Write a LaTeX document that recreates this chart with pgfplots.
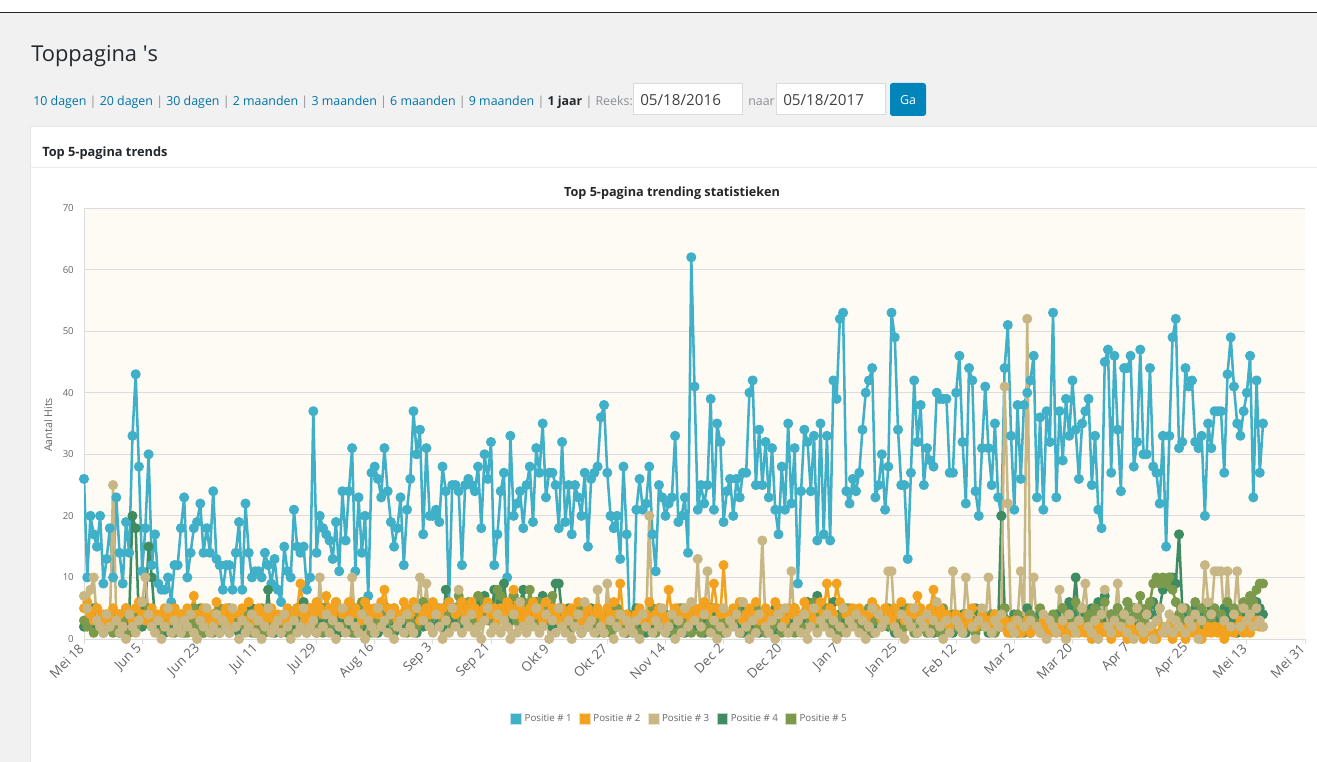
\documentclass[border=0pt]{standalone}
\usepackage{fontspec}
\setmainfont{Open Sans}
\usepackage{pgfplots}
\usepackage{pgfplotstable}
\pgfplotsset{compat=1.18}
\definecolor{cA}{HTML}{40AFC8}
\definecolor{cB}{HTML}{F2A21E}
\definecolor{cC}{HTML}{C8B784}
\definecolor{cD}{HTML}{3F8B62}
\definecolor{cE}{HTML}{7B9A4C}
\definecolor{wpbg}{HTML}{F1F1F1}
\definecolor{wplink}{HTML}{0073AA}
\definecolor{wptext}{HTML}{23282D}
\definecolor{wpgray}{HTML}{8C8F94}
\definecolor{plotbg}{HTML}{FDFBF3}
\definecolor{gridc}{HTML}{DCDCDC}
\definecolor{tickc}{HTML}{666666}
\definecolor{btn}{HTML}{0085BA}

% Positie # 1
\pgfplotstableread[row sep=\\]{y\\
26\\10\\20\\17\\15\\20\\9\\13\\18\\10\\
23\\14\\9\\19\\14\\33\\43\\28\\11\\18\\
30\\12\\17\\9\\8\\8\\10\\6\\12\\12\\
18\\23\\10\\14\\18\\19\\22\\14\\18\\14\\
24\\13\\12\\8\\12\\12\\8\\14\\19\\8\\
22\\14\\10\\11\\11\\10\\14\\12\\9\\13\\
8\\6\\15\\11\\10\\21\\15\\14\\15\\8\\
10\\37\\14\\20\\18\\17\\16\\13\\19\\11\\
24\\16\\24\\31\\11\\23\\14\\20\\7\\27\\
28\\26\\23\\31\\24\\19\\15\\18\\23\\12\\
21\\26\\37\\30\\34\\17\\31\\20\\20\\21\\
19\\28\\24\\6\\25\\25\\24\\12\\25\\26\\
25\\24\\28\\18\\30\\26\\32\\12\\17\\24\\
27\\10\\33\\20\\22\\24\\18\\25\\28\\19\\
31\\27\\35\\23\\27\\27\\25\\18\\32\\19\\
25\\17\\25\\23\\20\\27\\15\\26\\27\\28\\
36\\38\\27\\20\\18\\20\\13\\28\\17\\1.5\\
1\\21\\26\\21\\22\\28\\17\\11\\25\\23\\
20\\22\\23\\33\\19\\20\\23\\14\\62\\41\\
21\\25\\22\\25\\39\\21\\35\\32\\19\\24\\
26\\20\\26\\23\\27\\27\\40\\42\\25\\34\\
25\\32\\23\\31\\21\\17\\28\\21\\35\\22\\
31\\9\\24\\34\\32\\24\\33\\16\\35\\17\\
33\\16\\42\\39\\52\\53\\24\\22\\26\\24\\
27\\34\\40\\42\\44\\23\\25\\30\\21\\28\\
53\\49\\34\\25\\25\\13\\27\\42\\32\\38\\
25\\31\\29\\28\\40\\39\\39\\39\\27\\27\\
40\\46\\32\\22\\44\\42\\24\\20\\31\\41\\
31\\25\\35\\23\\20\\44\\51\\33\\21\\38\\
26\\38\\40\\42\\46\\23\\36\\21\\37\\32\\
53\\23\\37\\29\\39\\33\\42\\34\\26\\35\\
37\\39\\25\\33\\21\\18\\45\\47\\27\\46\\
34\\24\\44\\44\\46\\28\\32\\47\\30\\30\\
44\\28\\27\\22\\33\\15\\33\\49\\52\\31\\
32\\44\\41\\42\\32\\31\\33\\20\\35\\31\\
37\\37\\37\\27\\43\\49\\41\\35\\33\\37\\
40\\46\\23\\42\\27\\35\\
}\sA

% Positie # 2
\pgfplotstableread[row sep=\\]{y\\
5\\6\\4\\3\\5\\2\\4\\3\\4\\5\\
3\\4\\2\\5\\4\\3\\5\\6\\4\\3\\
4\\5\\3\\4\\3\\5\\4\\3\\5\\4\\
4\\3\\5\\4\\7\\4\\3\\5\\4\\3\\
4\\6\\3\\4\\5\\3\\4\\2\\4\\5\\
3\\6\\4\\3\\5\\4\\3\\4\\5\\3\\
4\\3\\4\\5\\3\\4\\5\\9\\4\\3\\
5\\4\\6\\5\\4\\7\\5\\4\\6\\5\\
4\\5\\6\\4\\5\\4\\3\\6\\5\\4\\
5\\4\\6\\8\\5\\4\\5\\3\\4\\6\\
5\\4\\6\\5\\3\\4\\5\\4\\6\\5\\
4\\5\\3\\6\\5\\4\\5\\6\\4\\5\\
6\\5\\4\\3\\5\\6\\4\\5\\3\\5\\
4\\6\\5\\8\\4\\5\\3\\4\\5\\6\\
4\\5\\3\\6\\4\\5\\4\\3\\5\\4\\
3\\5\\4\\6\\3\\4\\5\\3\\4\\5\\
4\\3\\5\\4\\6\\4\\9\\3\\4\\2\\
3\\4\\5\\3\\4\\6\\3\\4\\5\\4\\
3\\8\\4\\5\\3\\4\\5\\4\\3\\5\\
4\\5\\6\\4\\5\\9\\5\\4\\12\\4\\
3\\5\\4\\6\\3\\4\\5\\4\\6\\3\\
4\\5\\3\\4\\6\\5\\4\\3\\5\\4\\
5\\3\\4\\6\\5\\4\\3\\5\\6\\4\\
9\\5\\4\\9\\6\\5\\4\\3\\5\\4\\
5\\4\\3\\4\\6\\5\\4\\3\\5\\4\\
3\\5\\4\\6\\3\\4\\5\\4\\7\\5\\
4\\3\\5\\8\\4\\5\\3\\4\\2\\3\\
4\\3\\2\\4\\3\\5\\2\\3\\4\\2\\
3\\2\\4\\3\\2\\3\\1\\2\\3\\2\\
1\\2\\3\\1\\2\\2\\1\\3\\2\\1\\
2\\1\\2\\1\\0\\2\\1\\2\\1\\2\\
1\\2\\0\\1\\2\\1\\2\\1\\0\\2\\
1\\2\\1\\0\\2\\1\\1\\2\\0\\1\\
2\\1\\0\\1\\2\\1\\2\\0\\1\\2\\
1\\0\\2\\1\\2\\1\\0\\1\\2\\1\\
2\\1\\2\\0\\1\\2\\1\\2\\3\\1\\
2\\1\\2\\3\\2\\2\\
}\sB

% Positie # 3
\pgfplotstableread[row sep=\\]{y\\
7\\5\\8\\10\\3\\2\\1\\4\\2\\25\\
3\\1\\2\\0\\4\\2\\1\\3\\6\\10\\
4\\2\\1\\3\\0\\2\\5\\1\\3\\2\\
1\\3\\2\\4\\1\\0\\3\\2\\5\\1\\
2\\4\\1\\3\\2\\1\\5\\2\\0\\3\\
1\\2\\4\\1\\3\\0\\2\\5\\1\\2\\
3\\1\\4\\2\\0\\3\\1\\2\\5\\1\\
2\\3\\1\\10\\2\\4\\1\\3\\0\\2\\
5\\1\\3\\10\\2\\1\\4\\0\\3\\2\\
1\\5\\2\\3\\1\\4\\0\\2\\3\\1\\
4\\2\\1\\5\\10\\3\\9\\2\\1\\4\\
2\\0\\3\\1\\5\\2\\8\\1\\3\\2\\
4\\1\\2\\0\\3\\5\\1\\2\\4\\1\\
3\\2\\0\\4\\1\\6\\2\\1\\3\\2\\
5\\1\\2\\4\\0\\3\\1\\5\\2\\1\\
3\\0\\2\\4\\1\\6\\2\\3\\1\\8\\
2\\1\\9\\3\\0\\2\\4\\1\\3\\2\\
1\\3\\0\\4\\2\\20\\1\\3\\2\\5\\
1\\2\\4\\0\\3\\1\\5\\2\\6\\3\\
13\\2\\4\\11\\1\\3\\0\\2\\5\\1\\
3\\2\\4\\1\\6\\2\\0\\3\\1\\4\\
16\\2\\1\\3\\0\\4\\2\\5\\1\\11\\
2\\3\\1\\4\\0\\2\\5\\1\\3\\2\\
4\\1\\3\\0\\2\\5\\1\\3\\2\\4\\
1\\3\\0\\2\\5\\1\\4\\2\\3\\11\\
11\\2\\1\\4\\0\\3\\2\\5\\1\\3\\
2\\4\\1\\3\\6\\2\\0\\3\\1\\11\\
3\\2\\1\\10\\4\\2\\0\\3\\5\\2\\
10\\1\\3\\2\\4\\41\\22\\2\\1\\3\\
11\\2\\52\\3\\10\\2\\1\\4\\0\\3\\
2\\1\\8\\3\\0\\4\\2\\1\\3\\5\\
9\\2\\1\\3\\0\\4\\8\\2\\1\\3\\
9\\2\\4\\1\\3\\0\\5\\2\\1\\4\\
2\\0\\3\\5\\1\\2\\4\\1\\3\\2\\
5\\1\\3\\2\\4\\0\\3\\12\\6\\4\\
11\\11\\11\\3\\11\\2\\4\\11\\2\\5\\
3\\4\\2\\5\\3\\2\\
}\sC

% Positie # 4
\pgfplotstableread[row sep=\\]{y\\
2\\3\\4\\5\\2\\3\\1\\2\\4\\3\\
2\\1\\3\\2\\4\\20\\18\\3\\2\\5\\
15\\10\\3\\2\\4\\1\\3\\2\\5\\2\\
3\\1\\2\\4\\3\\2\\5\\1\\3\\2\\
4\\2\\1\\3\\2\\5\\2\\3\\1\\4\\
2\\3\\5\\1\\2\\4\\3\\8\\2\\1\\
3\\2\\4\\1\\3\\2\\5\\2\\6\\3\\
2\\4\\1\\3\\5\\2\\3\\4\\2\\1\\
3\\5\\2\\4\\1\\3\\2\\6\\3\\2\\
4\\1\\3\\2\\5\\3\\1\\4\\2\\3\\
2\\4\\3\\1\\5\\2\\3\\4\\2\\5\\
3\\2\\8\\4\\3\\5\\2\\6\\3\\4\\
5\\3\\6\\4\\7\\5\\3\\8\\4\\6\\
9\\5\\3\\7\\4\\6\\8\\3\\5\\4\\
6\\3\\7\\4\\5\\2\\9\\9\\4\\3\\
5\\2\\4\\3\\1\\4\\2\\5\\3\\2\\
4\\1\\3\\2\\5\\2\\4\\3\\1\\2\\
3\\5\\2\\4\\1\\3\\2\\4\\5\\2\\
3\\1\\4\\2\\3\\5\\1\\2\\4\\3\\
2\\4\\1\\3\\5\\2\\4\\3\\1\\2\\
4\\3\\2\\5\\1\\3\\2\\4\\3\\1\\
2\\4\\3\\1\\5\\2\\3\\4\\2\\3\\
5\\2\\3\\4\\6\\3\\5\\7\\2\\4\\
3\\5\\6\\2\\4\\3\\5\\2\\4\\3\\
2\\4\\3\\5\\1\\3\\2\\4\\3\\2\\
4\\1\\3\\2\\5\\3\\2\\4\\1\\3\\
2\\4\\3\\1\\5\\2\\3\\4\\2\\1\\
3\\2\\4\\1\\3\\2\\5\\3\\4\\2\\
1\\3\\4\\2\\20\\5\\3\\2\\4\\1\\
3\\2\\5\\1\\3\\2\\4\\3\\2\\1\\
3\\4\\2\\5\\3\\6\\4\\10\\3\\2\\
4\\3\\5\\2\\6\\3\\7\\2\\4\\3\\
5\\2\\4\\6\\3\\5\\2\\4\\3\\5\\
4\\6\\3\\5\\8\\9\\10\\10\\9\\17\\
5\\3\\4\\2\\5\\3\\4\\2\\3\\5\\
2\\4\\3\\5\\2\\4\\3\\1\\4\\2\\
3\\5\\4\\6\\5\\4\\
}\sD

% Positie # 5
\pgfplotstableread[row sep=\\]{y\\
3\\2\\4\\1\\5\\3\\2\\4\\3\\1\\
2\\4\\3\\5\\1\\3\\2\\4\\6\\3\\
5\\2\\3\\1\\4\\2\\3\\5\\1\\2\\
4\\2\\1\\3\\5\\2\\4\\1\\3\\2\\
1\\3\\5\\2\\4\\1\\3\\2\\4\\3\\
2\\4\\1\\3\\2\\5\\1\\3\\2\\4\\
3\\1\\2\\4\\1\\3\\5\\2\\4\\1\\
5\\3\\2\\4\\1\\5\\2\\3\\6\\2\\
2\\4\\3\\1\\5\\2\\6\\3\\4\\1\\
3\\5\\2\\4\\3\\1\\5\\2\\3\\4\\
1\\3\\5\\2\\4\\6\\3\\2\\5\\4\\
5\\3\\4\\6\\2\\5\\7\\3\\4\\6\\
3\\5\\7\\4\\6\\3\\5\\4\\8\\7\\
5\\6\\4\\7\\3\\5\\6\\4\\8\\5\\
3\\6\\4\\5\\3\\7\\4\\5\\2\\3\\
4\\2\\3\\5\\1\\3\\4\\2\\3\\1\\
3\\4\\2\\1\\3\\5\\2\\3\\1\\4\\
2\\3\\1\\4\\2\\3\\5\\1\\3\\2\\
4\\2\\3\\1\\5\\2\\3\\4\\1\\3\\
3\\1\\4\\2\\3\\5\\2\\1\\3\\4\\
2\\3\\5\\1\\4\\2\\3\\1\\5\\2\\
3\\1\\4\\2\\3\\5\\1\\3\\2\\4\\
1\\3\\2\\4\\5\\3\\6\\2\\4\\3\\
5\\2\\4\\3\\1\\4\\2\\5\\3\\2\\
3\\4\\2\\5\\1\\3\\4\\2\\3\\5\\
2\\3\\1\\4\\2\\5\\3\\1\\4\\2\\
3\\1\\4\\2\\3\\1\\5\\2\\3\\4\\
2\\3\\1\\4\\2\\3\\1\\2\\4\\3\\
2\\4\\1\\3\\2\\5\\3\\1\\2\\4\\
3\\1\\2\\4\\3\\2\\5\\1\\3\\2\\
4\\2\\3\\5\\2\\4\\3\\6\\2\\5\\
3\\4\\2\\5\\3\\4\\6\\2\\4\\3\\
5\\3\\4\\6\\2\\5\\4\\7\\3\\5\\
6\\9\\10\\9\\10\\9\\10\\8\\6\\4\\
3\\5\\2\\4\\6\\3\\5\\2\\4\\3\\
5\\2\\4\\3\\6\\2\\5\\4\\3\\6\\
5\\7\\6\\8\\9\\9\\
}\sE

\pgfplotsset{
  sq legend/.style={legend image code/.code={\draw[##1, line width=0.7pt] (0pt,-4pt) rectangle (8pt,4pt);}},
  ser/.style={#1, line width=1.9pt, line join=round, mark=*, mark size=2.8pt, mark options={draw=none, fill=#1}, forget plot},
}

\begin{document}
\begin{tikzpicture}
\begin{scope}[x=0.75pt,y=-0.75pt]
\fill[wpbg] (0,0) rectangle (1317,762);
\fill[white] (0,0) rectangle (1317,12);
\draw[black!85, line width=0.9pt] (0,12.5) -- (1317,12.5);
\node[anchor=base west, inner sep=0, text=wptext, font=\fontsize{16.4}{20}\selectfont] at (31,62) {Toppagina \textquotesingle s};
\node[anchor=base west, inner sep=0, font=\fontsize{9.3}{12}\selectfont] at (33,106)
 {\textcolor{wplink}{10 dagen} \textcolor{wpgray}{|} \textcolor{wplink}{20 dagen} \textcolor{wpgray}{|} \textcolor{wplink}{30 dagen} \textcolor{wpgray}{|} \textcolor{wplink}{2 maanden} \textcolor{wpgray}{|} \textcolor{wplink}{3 maanden} \textcolor{wpgray}{|} \textcolor{wplink}{6 maanden} \textcolor{wpgray}{|} \textcolor{wplink}{9 maanden} \textcolor{wpgray}{|} \textcolor{wptext}{\textbf{1 jaar}} \textcolor{wpgray}{| Reeks:}};
\draw[fill=white, draw=black!14, line width=0.75pt] (633,84) rectangle (742,115);
\node[anchor=base west, inner sep=0, text=black!75, font=\fontsize{11.4}{13}\selectfont] at (640,106) {05/18/2016};
\node[anchor=base west, inner sep=0, text=wpgray, font=\fontsize{9.3}{12}\selectfont] at (748,106) {naar};
\draw[fill=white, draw=black!14, line width=0.75pt] (776,84) rectangle (885,115);
\node[anchor=base west, inner sep=0, text=black!75, font=\fontsize{11.4}{13}\selectfont] at (783,106) {05/18/2017};
\fill[btn, rounded corners=2pt] (890,83) rectangle (926,116);
\node[text=white, inner sep=0, font=\fontsize{9.3}{12}\selectfont] at (908,100) {Ga};
\draw[fill=white, draw=black!10, line width=0.75pt] (30,127) rectangle (1340,790);
\node[anchor=base west, inner sep=0, text=wptext, font=\fontsize{9.6}{12}\selectfont\bfseries] at (42,157) {Top 5-pagina trends};
\draw[black!8, line width=0.75pt] (30,167.5) -- (1317,167.5);
\node[inner sep=0, text=black!85, font=\fontsize{9.5}{11}\selectfont\bfseries] at (672,193) {Top 5-pagina trending statistieken};
\node[inner sep=0, rotate=90, text=tickc, font=\fontsize{8}{10}\selectfont] at (48,425) {Aantal Hits};
\end{scope}

\begin{axis}[
  at={(63pt,-479.25pt)}, anchor=south west,
  scale only axis, width=915.75pt, height=323.25pt,
  xmin=0, xmax=378, ymin=0, ymax=70,
  xtick={0,18,...,378},
  xticklabels={Mei 18,Jun 5,Jun 23,Jul 11,Jul 29,Aug 16,Sep 3,Sep 21,Okt 9,Okt 27,Nov 14,Dec 2,Dec 20,Jan 7,Jan 25,Feb 12,Mar 2,Mar 20,Apr 7,Apr 25,Mei 13,Mei 31},
  ytick={0,10,...,70},
  axis background/.style={fill=plotbg},
  ymajorgrids, grid style={gridc, line width=0.7pt},
  axis lines*=left, axis line style={gridc, line width=0.7pt, -},
  tick align=outside, major tick length=3.5pt,
  xtick style={gridc, line width=0.7pt},
  ytick style={draw=none},
  xticklabel style={rotate=45, anchor=east, text=tickc, font=\fontsize{10}{11}\selectfont, inner sep=2.5pt},
  yticklabel style={text=tickc, font=\fontsize{7.2}{8}\selectfont, /pgf/number format/assume math mode=true, inner sep=4pt},
  legend style={at={(0.488,-0.186)}, anchor=center, draw=none, fill=none, legend columns=5,
     font=\fontsize{7.3}{8}\selectfont, text=tickc,
     /tikz/every even column/.append style={column sep=3.5pt}},
  legend cell align=left,
]
\addlegendimage{sq legend, fill=cA, draw=cA!35}
\addlegendentry{Positie \# 1}
\addlegendimage{sq legend, fill=cB, draw=cB!35}
\addlegendentry{Positie \# 2}
\addlegendimage{sq legend, fill=cC, draw=cC!35}
\addlegendentry{Positie \# 3}
\addlegendimage{sq legend, fill=cD, draw=cD!35}
\addlegendentry{Positie \# 4}
\addlegendimage{sq legend, fill=cE, draw=cE!35}
\addlegendentry{Positie \# 5}
\addplot[ser=cA] table[x expr=\coordindex, y=y] {\sA};
\addplot[ser=cD] table[x expr=\coordindex, y=y] {\sD};
\addplot[ser=cE] table[x expr=\coordindex, y=y] {\sE};
\addplot[ser=cB] table[x expr=\coordindex, y=y] {\sB};
\addplot[ser=cC] table[x expr=\coordindex, y=y] {\sC};
\end{axis}
\pgfresetboundingbox
\path[use as bounding box] (0pt,0pt) rectangle (987.75pt,-571.5pt);
\end{tikzpicture}
\end{document}
